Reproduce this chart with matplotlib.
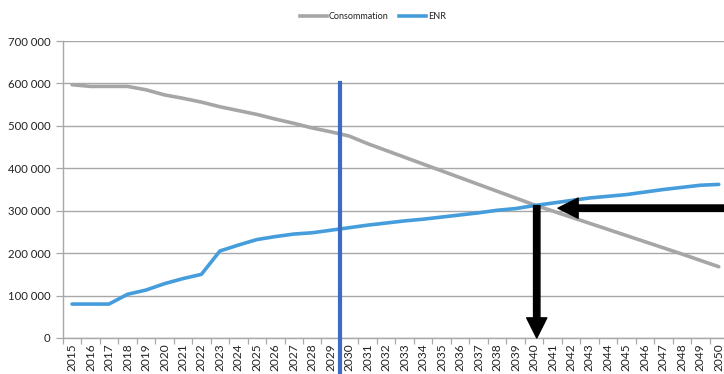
import matplotlib
matplotlib.use("Agg")
import matplotlib.pyplot as plt
from matplotlib.lines import Line2D
from matplotlib.ticker import FuncFormatter, MultipleLocator

plt.rcParams['font.family'] = ['Lato', 'DejaVu Sans']

years = list(range(2015, 2051))

consommation = [
    597000, 593000, 593000, 593000, 585000, 573000, 565000, 556000, 545000,
    536000, 527000, 516000, 506000, 495000, 486000, 476000, 458000, 442000,
    426000, 410000, 394000, 378000, 362000, 346000, 330000, 314000, 299500,
    285000, 270500, 256000, 241500, 227000, 212500, 198000, 183000, 168000,
]

enr = [
    80000, 80000, 80000, 103000, 113000, 128000, 140000, 150000, 205000,
    219000, 232000, 239000, 245000, 248000, 254000, 260000, 266000, 271000,
    276000, 280000, 285000, 290000, 295000, 301000, 305000, 312000, 318000,
    324000, 330000, 334000, 338000, 344000, 350000, 355000, 360000, 362000,
]

# reference year marker (boundary between 2029 and 2030)
split_after = 2029
split_top = 600000

# crossing of the two series, highlighted by arrows
cross_year = 2040
cross_value = 306000

GRAY = '#a6a6a6'
BLUE = '#469ddc'
MARK = '#3a6cc6'
GRID = '#a8a8a8'
TXT = '#222222'

fig = plt.figure(figsize=(7.24, 3.74), dpi=100)
ax = fig.add_axes([62.8 / 724, 36 / 374, (728 - 62.8) / 724, (338 - 41) / 374])

x = list(range(len(years)))
ax.plot(x, consommation, color=GRAY, lw=2.6, solid_capstyle='round',
        solid_joinstyle='round', zorder=3)
ax.plot(x, enr, color=BLUE, lw=2.6, solid_capstyle='round',
        solid_joinstyle='round', zorder=3)

ax.set_xlim(-0.5, len(years) - 0.5)
ax.set_ylim(0, 700000)

ax.yaxis.set_major_locator(MultipleLocator(100000))
ax.yaxis.set_major_formatter(FuncFormatter(
    lambda v, p: f"{int(v):,}".replace(",", " ")))
ax.set_xticks(x)
ax.set_xticklabels([str(y) for y in years], rotation=90, fontsize=8.6, color=TXT)
ax.tick_params(axis='x', length=0, pad=4)
ax.set_xticks([i - 0.5 for i in range(len(years) + 1)], minor=True)
ax.tick_params(axis='x', which='minor', length=4, color=GRID, width=0.9)
ax.tick_params(axis='y', length=5, color=GRID, width=0.9, labelsize=8.2,
               labelcolor=TXT, pad=4)

ax.grid(axis='y', color=GRID, lw=1.0, zorder=0)
for s in ('top', 'right'):
    ax.spines[s].set_visible(False)
for s in ('left', 'bottom'):
    ax.spines[s].set_color(GRID)
    ax.spines[s].set_linewidth(1.0)

# vertical marker line crossing the axis into the label area
xs = years.index(split_after) + 0.5
ax.axvline(xs, ymin=-0.2, ymax=split_top / 700000, color=MARK, lw=3.0,
           clip_on=False, zorder=4)

# arrows pointing at the crossing and down to its year
xc = years.index(cross_year)
arrow = dict(facecolor='black', edgecolor='black', width=4.6,
             headwidth=14.5, headlength=14.5, shrink=0)
ax.annotate('', xy=(xc + 1.3, cross_value), xytext=(37, cross_value),
            arrowprops=arrow, annotation_clip=False, zorder=5)
ax.annotate('', xy=(xc + 0.15, 0), xytext=(xc + 0.15, cross_value + 6000),
            arrowprops=arrow, annotation_clip=False, zorder=5)

handles = [Line2D([], [], color=GRAY, lw=2.6),
           Line2D([], [], color=BLUE, lw=2.6)]
fig.legend(handles, ['Consommation', 'ENR'], loc='center',
           bbox_to_anchor=(0.515, 0.955), ncol=2, frameon=False,
           fontsize=6.5, handlelength=3.0, handletextpad=0.2,
           columnspacing=1.2, labelcolor=TXT)

fig.savefig('out.png', dpi=100, facecolor='white')
